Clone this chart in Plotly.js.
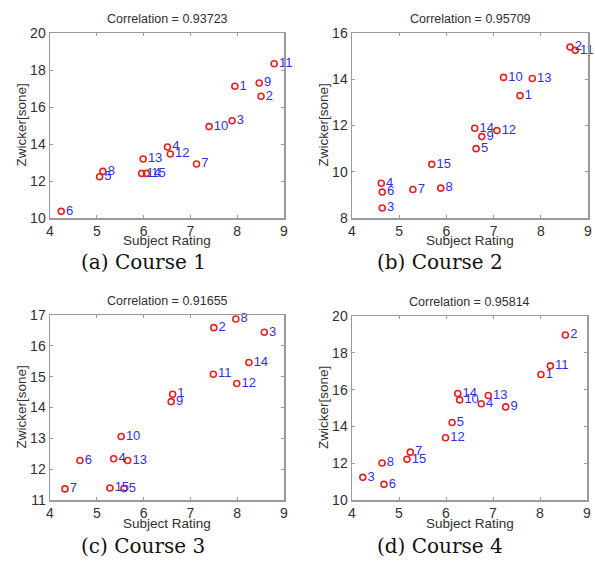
<!DOCTYPE html>
<html>
<head>
<meta charset="utf-8">
<script src="https://cdn.plot.ly/plotly-3.0.1.min.js"></script>
<style>html,body{margin:0;padding:0;background:#fff;}#chart{width:595px;height:566px;}</style>
</head>
<body>
<div id="chart"></div>
<script>
// Course 1
const labels1 = [1,2,3,4,5,6,7,8,9,10,11,12,13,14,15];
const rating1 = [7.95,8.51,7.89,6.51,5.06,4.24,7.13,5.13,8.47,7.40,8.79,6.57,5.99,5.96,6.06];
const zwicker1 = [17.12,16.58,15.26,13.84,12.23,10.36,12.92,12.52,17.30,14.94,18.34,13.46,13.19,12.41,12.41];
// Course 2
const labels2 = [1,2,3,4,5,6,7,8,9,10,11,12,13,14,15];
const rating2 = [7.56,8.62,4.64,4.62,6.63,4.64,5.29,5.88,6.75,7.21,8.73,7.07,7.82,6.60,5.69];
const zwicker2 = [13.29,15.39,8.43,9.50,11.00,9.12,9.23,9.29,11.52,14.08,15.25,11.78,14.03,11.88,10.32];
// Course 3
const labels3 = [1,2,3,4,5,6,7,8,9,10,11,12,13,14,15];
const rating3 = [6.62,7.50,8.58,5.36,5.58,4.64,4.32,7.97,6.59,5.52,7.49,7.99,5.66,8.25,5.28];
const zwicker3 = [14.43,16.59,16.44,12.34,11.37,12.28,11.36,16.87,14.19,13.06,15.08,14.78,12.28,15.46,11.39];
// Course 4
const labels4 = [1,2,3,4,5,6,7,8,9,10,11,12,13,14,15];
const rating4 = [8.02,8.54,4.23,6.75,6.13,4.68,5.24,4.64,7.27,6.29,8.22,5.99,6.90,6.25,5.17];
const zwicker4 = [16.82,18.97,11.23,15.23,14.21,10.85,12.60,12.01,15.06,15.44,17.29,13.38,15.68,15.79,12.21];

const correlations = ['0.93723','0.95709','0.91655','0.95814'];
const captions = ['(a) Course 1','(b) Course 2','(c) Course 3','(d) Course 4'];
const yRanges = [[10,20],[8,16],[11,17],[10,20]];
const yTicks = [[10,12,14,16,18,20],[8,10,12,14,16],[11,12,13,14,15,16,17],[10,12,14,16,18,20]];
const xTicks = [4,5,6,7,8,9];

const sets = [
  [labels1, rating1, zwicker1],
  [labels2, rating2, zwicker2],
  [labels3, rating3, zwicker3],
  [labels4, rating4, zwicker4]
];

const W = 595, H = 566;
// plot boxes in pixels: [left, right, top, bottom]
const boxes = [[50,284,33,218],[352,588,33,218],[50,284,315,500],[352,587,316,500]];

const sans = 'Arial, "Liberation Sans", sans-serif';
const traces = [];
const layout = {
  width: W, height: H,
  margin: {l:0, r:0, t:0, b:0},
  paper_bgcolor: '#fff', plot_bgcolor: '#fff',
  showlegend: false,
  annotations: []
};

sets.forEach((s, i) => {
  const n = i + 1;
  const xa = n === 1 ? 'x' : 'x' + n;
  const ya = n === 1 ? 'y' : 'y' + n;
  traces.push({
    type: 'scatter', mode: 'markers+text',
    x: s[1], y: s[2], text: s[0].map(String),
    textposition: 'middle right',
    textfont: {family: sans, size: 13, color: '#2f2fe6'},
    marker: {symbol: 'circle-open', size: 6, color: '#e8211d', line: {width: 1.6, color: '#e8211d'}},
    xaxis: xa, yaxis: ya, cliponaxis: false, hoverinfo: 'skip'
  });
  const b = boxes[i];
  const axCommon = {
    showgrid: false, zeroline: false, showline: true, mirror: 'ticks',
    linecolor: '#9a9a9a', linewidth: 1.5,
    ticks: 'inside', ticklen: 3, tickcolor: '#9a9a9a', tickwidth: 1,
    tickfont: {family: sans, size: 14, color: '#303030'},
    fixedrange: true
  };
  layout['xaxis' + (n === 1 ? '' : n)] = Object.assign({}, axCommon, {
    domain: [b[0] / W, b[1] / W], anchor: ya,
    range: [4, 9], tickvals: xTicks, ticktext: xTicks.map(String)
  });
  layout['yaxis' + (n === 1 ? '' : n)] = Object.assign({}, axCommon, {
    domain: [1 - b[3] / H, 1 - b[2] / H], anchor: xa,
    range: yRanges[i], tickvals: yTicks[i], ticktext: yTicks[i].map(String)
  });
  const cx = (b[0] + b[1]) / 2;
  // plot title
  layout.annotations.push({
    xref: 'paper', yref: 'paper', x: cx / W, y: 1 - (b[2] - 14) / H,
    text: 'Correlation = ' + correlations[i], showarrow: false,
    font: {family: sans, size: 12.5, color: '#303030'}, xanchor: 'center', yanchor: 'middle'
  });
  // x axis title
  layout.annotations.push({
    xref: 'paper', yref: 'paper', x: cx / W, y: 1 - (b[3] + 23) / H,
    text: 'Subject Rating', showarrow: false,
    font: {family: sans, size: 13.5, color: '#303030'}, xanchor: 'center', yanchor: 'middle'
  });
  // y axis title
  layout.annotations.push({
    xref: 'paper', yref: 'paper', x: (b[0] - 29) / W, y: 1 - ((b[2] + b[3]) / 2) / H,
    text: 'Zwicker[sone]', showarrow: false, textangle: -90,
    font: {family: sans, size: 13.5, color: '#303030'}, xanchor: 'center', yanchor: 'middle'
  });
  // caption
  layout.annotations.push({
    xref: 'paper', yref: 'paper', x: (i % 2 === 0 ? 143 : 440) / W, y: 1 - (i < 2 ? 262 : 546) / H,
    text: captions[i], showarrow: false,
    font: {family: '"DejaVu Serif", "Liberation Serif", serif', size: 20, color: '#111'},
    xanchor: 'center', yanchor: 'middle'
  });
});

Plotly.newPlot('chart', traces, layout, {staticPlot: true, displayModeBar: false});
</script>
</body>
</html>
